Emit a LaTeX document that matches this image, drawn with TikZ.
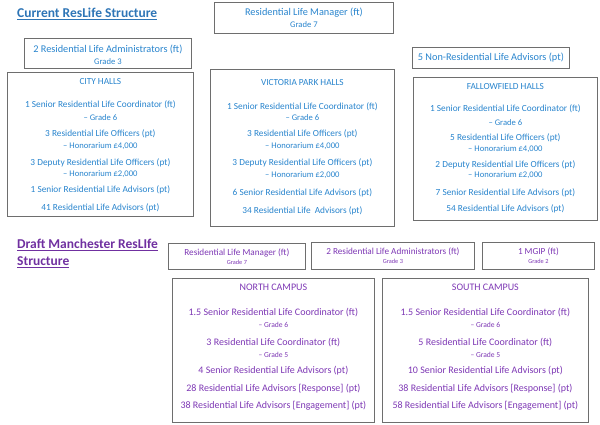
\documentclass[tikz,border=0pt]{standalone}
\usepackage{fontspec}
\setmainfont{Carlito}
\usetikzlibrary{positioning}

\definecolor{titleblue}{RGB}{46,117,182}
\definecolor{resblue}{RGB}{40,132,205}
\definecolor{titlepurple}{RGB}{112,48,160}
\definecolor{respurple}{RGB}{125,55,180}
\definecolor{boxgray}{RGB}{110,110,110}

\newcommand{\gradeline}[1]{{\fontsize{8.6}{9}\selectfont #1}}
\newcommand{\campusgrade}[1]{{\fontsize{7.6}{8}\selectfont #1}}
\newcommand{\draftgrade}[1]{{\fontsize{6.3}{6}\selectfont #1}}

\begin{document}
\begin{tikzpicture}[
    x=1pt, y=-1pt,
    box/.style={rectangle, draw=boxgray, line width=0.8pt, anchor=north west, inner sep=0pt, align=center},
    bluebox/.style={box, text=resblue, font=\fontsize{10.3}{12}\selectfont},
    purplebox/.style={box, text=respurple, font=\fontsize{9.2}{9}\selectfont},
    halltext/.style={align=center, inner sep=0pt, text=resblue, font=\fontsize{9.3}{11}\selectfont},
    campustext/.style={align=center, inner sep=0pt, text=respurple, font=\fontsize{10}{11}\selectfont},
    heading/.style={anchor=north west, inner sep=0pt, align=left, font=\fontsize{13.5}{17}\selectfont\bfseries}
]
    \useasboundingbox (0,0) rectangle (600,424);

    % Current structure
    \node[heading, text=titleblue] (curtitle) at (17,8) {\underline{Current ResLife Structure}};

    \node[bluebox, minimum width=179pt, minimum height=31pt] (manager) at (214,2)
        {Residential Life Manager (ft)\\[0pt]\gradeline{Grade 7}};
    \node[bluebox, minimum width=167pt, minimum height=30pt] (admins) at (24,38)
        {\rule{0pt}{11pt}2 Residential Life Administrators (ft)\\[0pt]\gradeline{Grade 3}};
    \node[bluebox, minimum width=157pt, minimum height=21pt] (nonres) at (412,47)
        {5 Non-Residential Life Advisors (pt)};

    % Halls
    \node[box, minimum width=186pt, minimum height=144pt] (city) at (7,72) {};
    \node[box, minimum width=184pt, minimum height=157pt] (victoria) at (210,69) {};
    \node[box, minimum width=184pt, minimum height=143pt] (fallowfield) at (413,77) {};

    \node[halltext, below=6pt of city.north] (citytext) {%
        CITY HALLS\\[12pt]
        1 Senior Residential Life Coordinator (ft)\\[2pt]
        \gradeline{-- Grade 6}\\[5pt]
        3 Residential Life Officers (pt)\\[1pt]
        \gradeline{-- Honorarium £4,000}\\[6pt]
        3 Deputy Residential Life Officers (pt)\\[0pt]
        \gradeline{-- Honorarium £2,000}\\[5pt]
        1 Senior Residential Life Advisors (pt)\\[7pt]
        41 Residential Life Advisors (pt)};
    \node[halltext, below=10pt of victoria.north] (victoriatext) {%
        VICTORIA PARK HALLS\\[13pt]
        1 Senior Residential Life Coordinator (ft)\\[0pt]
        \gradeline{-- Grade 6}\\[5pt]
        3 Residential Life Officers (pt)\\[1pt]
        \gradeline{-- Honorarium £4,000}\\[6pt]
        3 Deputy Residential Life Officers (pt)\\[1pt]
        \gradeline{-- Honorarium £2,000}\\[7pt]
        6 Senior Residential Life Advisors (pt)\\[7pt]
        34 Residential Life\ \ Advisors (pt)};
    \node[halltext, below=6pt of fallowfield.north] (fallowtext) {%
        FALLOWFIELD HALLS\\[11pt]
        1 Senior Residential Life Coordinator (ft)\\[3pt]
        \gradeline{-- Grade 6}\\[4pt]
        5 Residential Life Officers (pt)\\[0pt]
        \gradeline{-- Honorarium £4,000}\\[5pt]
        2 Deputy Residential Life Officers (pt)\\[-1pt]
        \gradeline{-- Honorarium £2,000}\\[7pt]
        7 Senior Residential Life Advisors (pt)\\[5pt]
        54 Residential Life Advisors (pt)};

    % Draft structure
    \node[heading, text=titlepurple] (drafttitle) at (17,239)
        {\underline{Draft Manchester ResLIfe}\\\underline{Structure}};

    \node[purplebox, minimum width=137pt, minimum height=26pt] (draftmanager) at (168,243)
        {Residential Life Manager (ft)\\[0pt]\draftgrade{Grade 7}};
    \node[purplebox, minimum width=163pt, minimum height=27pt] (draftadmins) at (311,242)
        {2 Residential Life Administrators (ft)\\[0pt]\draftgrade{Grade 3}};
    \node[purplebox, minimum width=112pt, minimum height=27pt] (mgip) at (482,242)
        {1 MGIP (ft)\\[0pt]\draftgrade{Grade 2}};

    % Campuses
    \node[box, minimum width=202pt, minimum height=144pt] (north) at (172,278) {};
    \node[box, minimum width=206pt, minimum height=144pt] (south) at (382,278) {};

    \node[campustext, below=6pt of north.north] (northtext) {%
        NORTH CAMPUS\\[14pt]
        1.5 Senior Residential Life Coordinator (ft)\\[1pt]
        \campusgrade{-- Grade 6}\\[7pt]
        3 Residential Life Coordinator (ft)\\[1pt]
        \campusgrade{-- Grade 5}\\[5pt]
        4 Senior Residential Life Advisors (pt)\\[7pt]
        28 Residential Life Advisors [Response] (pt)\\[6pt]
        38 Residential Life Advisors [Engagement] (pt)};
    \node[campustext, below=6pt of south.north] (southtext) {%
        SOUTH CAMPUS\\[14pt]
        1.5 Senior Residential Life Coordinator (ft)\\[1pt]
        \campusgrade{-- Grade 6}\\[7pt]
        5 Residential Life Coordinator (ft)\\[1pt]
        \campusgrade{-- Grade 5}\\[5pt]
        10 Senior Residential Life Advisors (pt)\\[7pt]
        38 Residential Life Advisors [Response] (pt)\\[6pt]
        58 Residential Life Advisors [Engagement] (pt)};

\end{tikzpicture}
\end{document}
